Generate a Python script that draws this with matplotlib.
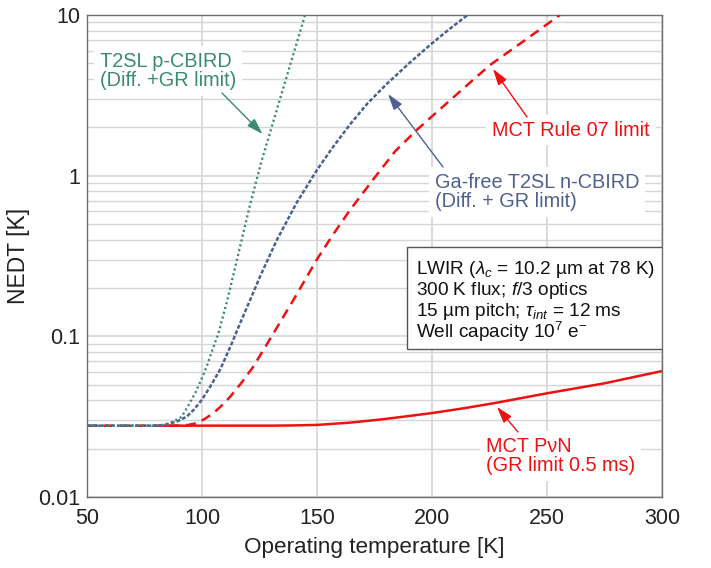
import matplotlib
matplotlib.use("Agg")
import matplotlib.pyplot as plt
from matplotlib.patches import Rectangle
import numpy as np

plt.rcParams['font.family'] = ['Liberation Sans', 'DejaVu Sans']
plt.rcParams['mathtext.fontset'] = 'custom'
plt.rcParams['mathtext.rm'] = 'Liberation Sans'
plt.rcParams['mathtext.it'] = 'Liberation Sans:italic'
plt.rcParams['mathtext.bf'] = 'Liberation Sans:bold'

# ---- data ----
t2sl_p_T = [50, 78, 82, 86, 88.5, 91.2, 94, 97, 99.5, 102, 104.5, 107.1, 111, 116.2, 120.9, 126, 131, 136, 140.5, 144.8]
t2sl_p_V = [0.0278, 0.0278, 0.0279, 0.0288, 0.0300, 0.0316, 0.0370, 0.0442, 0.053, 0.0647, 0.082, 0.104, 0.168, 0.344, 0.66, 1.25, 2.17, 3.78, 6.2, 10]

t2sl_n_T = [50, 80, 83, 86, 89.5, 93.3, 96.5, 99.9, 103.5, 107.8, 112.9, 116.5, 120.9, 125.2, 132.5, 141.2, 149.9, 156.4, 164.3, 172, 180.3, 190, 199.1, 207, 215.5]
t2sl_n_V = [0.0278, 0.0278, 0.0280, 0.0286, 0.0297, 0.0316, 0.0350, 0.0402, 0.0485, 0.0617, 0.090, 0.120, 0.168, 0.235, 0.397, 0.68, 1.08, 1.47, 2.08, 2.82, 3.72, 5.0, 6.5, 8.05, 10]

rule07_T = [50, 90, 94, 97.7, 101, 104.9, 108.5, 112.2, 117, 122.3, 131, 139.7, 149.9, 157, 164.3, 174.5, 184, 193.3, 205, 215, 225.2, 240, 255.6]
rule07_V = [0.0278, 0.0278, 0.0281, 0.0288, 0.0305, 0.0332, 0.0370, 0.042, 0.051, 0.0647, 0.104, 0.168, 0.30, 0.43, 0.61, 0.95, 1.42, 1.92, 2.71, 3.63, 4.88, 6.9, 10]

pvn_T = [83, 100, 130, 140, 150, 164, 177, 186, 200, 214, 228, 250, 275, 300]
pvn_V = [0.0278, 0.0278, 0.0278, 0.0279, 0.0281, 0.0290, 0.0303, 0.0314, 0.0333, 0.0357, 0.0386, 0.0442, 0.0510, 0.0608]

x_ticks = [50, 100, 150, 200, 250, 300]
y_ticks = [0.01, 0.1, 1, 10]
y_ticklabels = ['0.01', '0.1', '1', '10']

GREEN = '#3a8a74'
BLUE = '#4d6191'
RED = '#ee1111'

fig = plt.figure(figsize=(7.11, 5.68), dpi=100)
ax = fig.add_axes([87/711, 71/568, 575/711, 482/568])

ax.set_yscale('log')
ax.set_xlim(50, 300)
ax.set_ylim(0.01, 10)

ax.plot(pvn_T, pvn_V, color=RED, lw=1.8, solid_capstyle='butt', zorder=4)
ax.plot(rule07_T, rule07_V, color=RED, lw=1.8, linestyle=(0, (4, 2.6)), zorder=5)
ax.plot(t2sl_n_T, t2sl_n_V, color=BLUE, lw=1.8, linestyle=(0, (1.6, 0.8)), zorder=6)
ax.plot(t2sl_p_T, t2sl_p_V, color=GREEN, lw=1.7, linestyle=(0, (0.9, 1.2)), zorder=7)

ax.set_xticks(x_ticks)
ax.set_xticklabels([str(v) for v in x_ticks])
ax.set_yticks(y_ticks)
ax.set_yticklabels(y_ticklabels)
ax.yaxis.set_minor_locator(matplotlib.ticker.LogLocator(base=10, subs=np.arange(2, 10)))
ax.yaxis.set_minor_formatter(matplotlib.ticker.NullFormatter())
ax.tick_params(axis='both', which='both', length=0, labelsize=15.5, colors='#222222')
ax.tick_params(axis='y', pad=5)
ax.tick_params(axis='x', pad=8)
ax.grid(True, which='major', axis='both', color='#d6d6d6', lw=1.2, zorder=1)
ax.grid(True, which='minor', axis='y', color='#d6d6d6', lw=1.0, zorder=1)
ax.set_axisbelow(True)
for s in ax.spines.values():
    s.set_color('#6e6e6e')
    s.set_linewidth(1.0)

ax.set_xlabel('Operating temperature [K]', fontsize=16.2, color='#222222', labelpad=6)
ax.set_ylabel('NEDT [K]', fontsize=16.5, color='#222222', labelpad=6)

def px2data(px, py):
    T = 50 + (px - 87) / 575 * 250
    v = 10 ** (-2 + (497 - py) / 482 * 3)
    return T, v

fs = 14.3
bb = dict(boxstyle='square,pad=0.3', fc='white', ec='none')

labels = [
    ('T2SL p-CBIRD\n(Diff. +GR limit)', GREEN, (100, 71), (222, 93), (262.5, 134)),
    ('Ga-free T2SL n-CBIRD\n(Diff. + GR limit)', BLUE, (435, 192), (443, 167), (388, 94)),
    ('MCT Rule 07 limit', RED, (492, 130), (527, 117), (493, 69)),
    ('MCT P\u03bdN\n(GR limit 0.5 ms)', RED, (486, 456), (518, 432), (497, 407)),
]
for txt, col, tpos, a0, a1 in labels:
    ax.text(*px2data(*tpos), txt, color=col, fontsize=fs, ha='left', va='center',
            linespacing=1.05, bbox=bb, zorder=3)
    ax.annotate('', xy=px2data(*a1), xytext=px2data(*a0), zorder=8,
                arrowprops=dict(arrowstyle='-|>,head_length=0.7,head_width=0.22', color=col,
                                lw=1.0, mutation_scale=14, shrinkA=0, shrinkB=0))

# info box
ax.add_patch(Rectangle(((407 - 87) / 575, (497 - 349) / 482), (662 - 407) / 575, (349 - 247) / 482,
                       transform=ax.transAxes, fc='white', ec='#555555', lw=1.0, zorder=8))
box_lines = [r'LWIR ($\lambda_c$ = 10.2 µm at 78 K)',
             r'300 K flux; $\mathit{f}$/3 optics',
             r'15 µm pitch; $\tau_{int}$ = 12 ms',
             r'Well capacity 10$^7$ e$^{-}$']
for i, line in enumerate(box_lines):
    py = 270 + i * 20.6
    ax.text((416 - 87) / 575, (497 - py) / 482, line, transform=ax.transAxes, fontsize=13.7,
            color='#111111', ha='left', va='center', zorder=9)

fig.savefig('out.png', dpi=100)
